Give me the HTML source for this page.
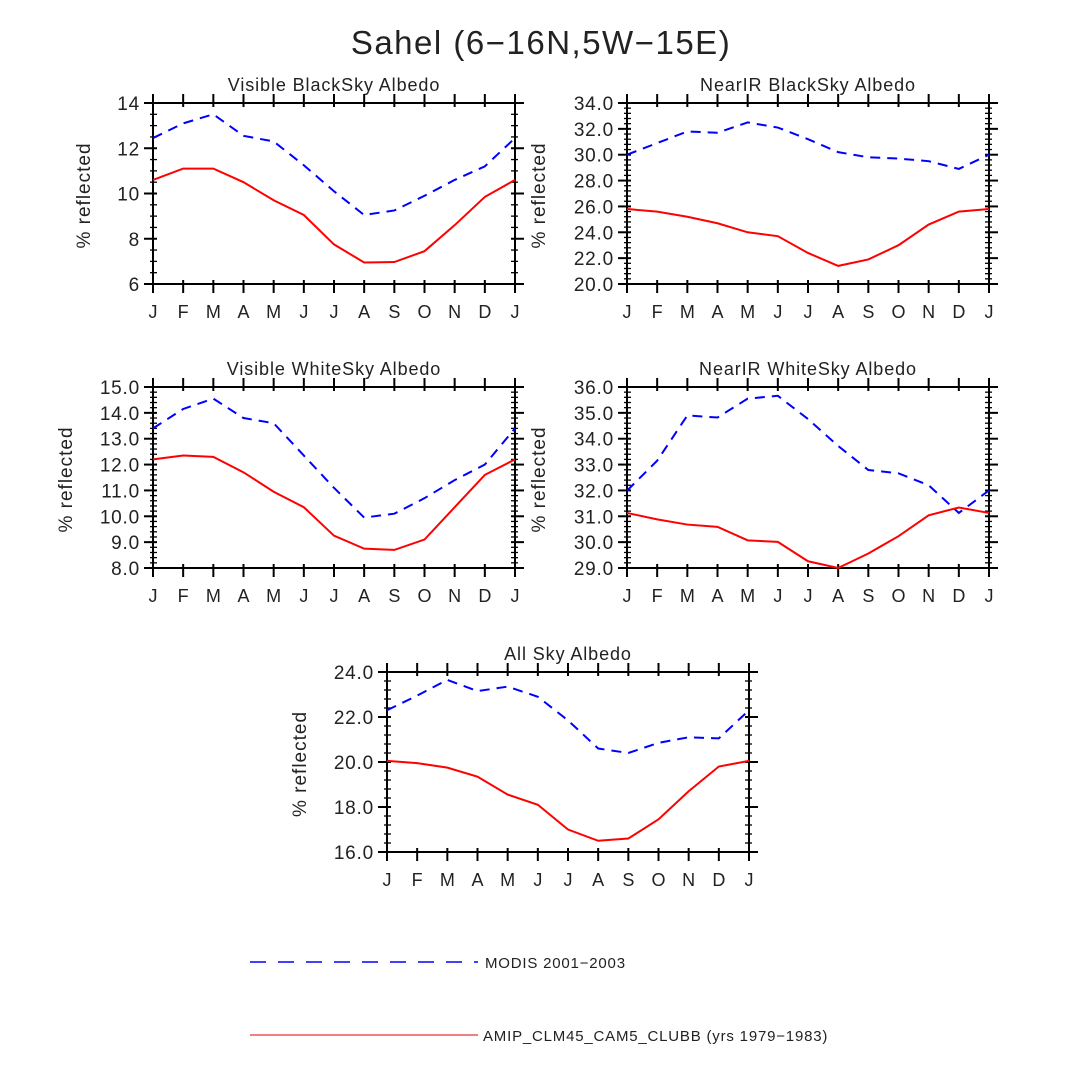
<!DOCTYPE html>
<html><head><meta charset="utf-8"><style>
html,body{margin:0;padding:0;background:#fff}
svg{display:block}
text{font-family:"Liberation Sans",sans-serif;fill:#222}
</style></head><body>
<svg id="chart" width="1080" height="1080" viewBox="0 0 1080 1080" xmlns="http://www.w3.org/2000/svg">
<text x="541" y="54" text-anchor="middle" font-size="33" letter-spacing="1.5">Sahel (6−16N,5W−15E)</text>
<g id="panels"></g>
<g>
<line x1="250" y1="962" x2="478" y2="962" stroke="#0000ff" stroke-width="1.5" stroke-dasharray="16,12"/>
<text x="485" y="968" font-size="15" letter-spacing="0.8">MODIS 2001−2003</text>
<line x1="250" y1="1035" x2="478" y2="1035" stroke="#e00000" stroke-width="1"/>
<text x="483" y="1041" font-size="15" letter-spacing="0.8">AMIP_CLM45_CAM5_CLUBB (yrs 1979−1983)</text>
</g>
</svg>
<script>
const months = ["J","F","M","A","M","J","J","A","S","O","N","D","J"];
const titles = ["Visible BlackSky Albedo","NearIR BlackSky Albedo","Visible WhiteSky Albedo","NearIR WhiteSky Albedo","All Sky Albedo"];
const modelP1 = [10.6,11.1,11.1,10.5,9.7,9.05,7.75,6.95,6.97,7.45,8.6,9.85,10.6];
const modisP1 = [12.45,13.1,13.5,12.55,12.3,11.25,10.1,9.05,9.25,9.9,10.6,11.2,12.45];
const modelP2 = [25.8,25.6,25.2,24.7,24.0,23.7,22.4,21.4,21.9,23.0,24.6,25.6,25.8];
const modisP2 = [30.0,30.9,31.8,31.7,32.5,32.1,31.2,30.2,29.8,29.7,29.5,28.9,30.0];
const modelP3 = [12.2,12.35,12.3,11.7,10.95,10.35,9.25,8.75,8.7,9.1,10.35,11.6,12.2];
const modisP3 = [13.4,14.15,14.55,13.8,13.6,12.35,11.1,9.95,10.1,10.7,11.4,12.0,13.4];
const modelP4 = [31.13,30.88,30.68,30.59,30.07,30.01,29.26,29.0,29.56,30.23,31.04,31.34,31.13];
const modisP4 = [31.99,33.15,34.9,34.82,35.55,35.66,34.76,33.72,32.79,32.66,32.2,31.13,32.0];
const modelP5 = [20.05,19.95,19.75,19.35,18.55,18.1,17.0,16.5,16.6,17.45,18.7,19.8,20.05];
const modisP5 = [22.3,22.95,23.65,23.15,23.35,22.9,21.85,20.6,20.4,20.85,21.1,21.05,22.3];
const ticksP1 = [6,8,10,12,14];
const ticksP2 = [20,22,24,26,28,30,32,34];
const ticksP3 = [8,9,10,11,12,13,14,15];
const ticksP4 = [29,30,31,32,33,34,35,36];
const ticksP5 = [16,18,20,22,24];

const NS="http://www.w3.org/2000/svg";
const root=document.getElementById('panels');
function mk(tag,attrs,parent){const e=document.createElementNS(NS,tag);for(const k in attrs)e.setAttribute(k,attrs[k]);parent.appendChild(e);return e;}

const layout=[
 {x0:153,x1:515,y0:103,y1:284,ticks:ticksP1,minor:3,dec:0,yt:63,model:modelP1,modis:modisP1},
 {x0:627,x1:989,y0:103,y1:284,ticks:ticksP2,minor:4,dec:1,yt:82,model:modelP2,modis:modisP2},
 {x0:153,x1:515,y0:387,y1:568,ticks:ticksP3,minor:4,dec:1,yt:81,model:modelP3,modis:modisP3},
 {x0:627,x1:989,y0:387,y1:568,ticks:ticksP4,minor:4,dec:1,yt:82,model:modelP4,modis:modisP4},
 {x0:387,x1:749,y0:672,y1:852,ticks:ticksP5,minor:4,dec:1,yt:81,model:modelP5,modis:modisP5}
];
layout.forEach((p,i)=>{
 const g=mk('g',{},root);
 
 
 const lo=p.ticks[0],hi=p.ticks[p.ticks.length-1];
 const xs=m=>p.x0+(p.x1-p.x0)*m/(months.length-1);
 const ys=v=>p.y1-(p.y1-p.y0)*(v-lo)/(hi-lo);
 const t=mk('text',{x:(p.x0+p.x1)/2,y:p.y0-12,'text-anchor':'middle','font-size':18,'letter-spacing':0.9},g);
 
 
 t.textContent=titles[i];
 const tk=mk('g',{stroke:'#000','stroke-width':2},g);
 
 
 months.forEach((m,k)=>{const x=xs(k);
  mk('line',{x1:x,y1:p.y1-4,x2:x,y2:p.y1+9},tk);
  mk('line',{x1:x,y1:p.y0+4,x2:x,y2:p.y0-9},tk);
  const lt=mk('text',{x:x,y:p.y1+34,'text-anchor':'middle','font-size':18,stroke:'none'},g);
  
  
  lt.textContent=m;
 });
 p.ticks.forEach((v,k)=>{const y=ys(v);
  mk('line',{x1:p.x0-9,y1:y,x2:p.x0+4,y2:y},tk);
  mk('line',{x1:p.x1+9,y1:y,x2:p.x1-4,y2:y},tk);
  if(k<p.ticks.length-1){const st=(p.ticks[k+1]-v)/(p.minor+1);
   for(let j=1;j<=p.minor;j++){const yy=ys(v+st*j);
    mk('line',{x1:p.x0-3,y1:yy,x2:p.x0+4,y2:yy,'stroke-width':1.3},tk);
    mk('line',{x1:p.x1+3,y1:yy,x2:p.x1-4,y2:yy,'stroke-width':1.3},tk);}}
  const lt=mk('text',{x:p.x0-13,y:y+7,'text-anchor':'end','font-size':19,'letter-spacing':0.8},g);
  
  
  lt.textContent=v.toFixed(p.dec);
 });
 const yl=mk('text',{x:0,y:0,'text-anchor':'middle','font-size':19,'letter-spacing':1,transform:`translate(${p.x0-p.yt},${(p.y0+p.y1)/2+2}) rotate(-90)`},g);
 
 
 yl.textContent='% reflected';
 const fr=mk('rect',{x:p.x0,y:p.y0,width:p.x1-p.x0,height:p.y1-p.y0,fill:'none',stroke:'#000','stroke-width':2},g);
 
 
 const l1=mk('polyline',{points:p.modis.map((v,k)=>xs(k)+','+ys(v)).join(' '),fill:'none',stroke:'#0000ff','stroke-width':2,'stroke-dasharray':'10,7'},g);
 
 
 const l2=mk('polyline',{points:p.model.map((v,k)=>xs(k)+','+ys(v)).join(' '),fill:'none',stroke:'#ff0000','stroke-width':2},g);
 
 
});
</script>
</body></html>
